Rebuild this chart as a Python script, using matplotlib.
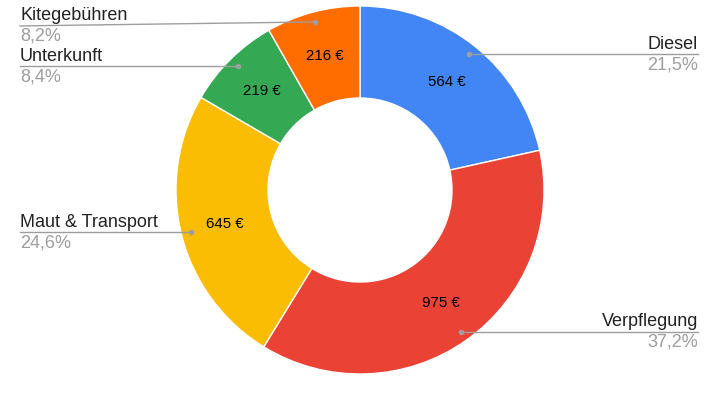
import numpy as np
import matplotlib.pyplot as plt

plt.rcParams['font.family'] = ['Liberation Sans', 'DejaVu Sans']

categories = ['Diesel', 'Verpflegung', 'Maut & Transport', 'Unterkunft', 'Kitegebühren']
values = [564, 975, 645, 219, 216]
value_labels = ['564 €', '975 €', '645 €', '219 €', '216 €']
percent_labels = ['21,5%', '37,2%', '24,6%', '8,4%', '8,2%']
colors = ['#4285F4', '#EA4335', '#FBBC04', '#34A853', '#FF6D01']

W, H = 720, 397
fig = plt.figure(figsize=(W / 100, H / 100), dpi=100)
ax = fig.add_axes([0, 0, 1, 1])

cx, cy, R = 360, H - 190, 184
wedges, _ = ax.pie(values, colors=colors, startangle=90, counterclock=False,
                   center=(cx, cy), radius=R, frame=True,
                   wedgeprops=dict(width=R * 0.5, edgecolor='white', linewidth=1))
ax.set_xlim(0, W)
ax.set_ylim(0, H)
ax.set_aspect('equal')
ax.axis('off')

# small vertical nudges for labels that would collide
nudge = {'Kitegebühren': -4}

for w, name, vl, pl in zip(wedges, categories, value_labels, percent_labels):
    ang = np.deg2rad((w.theta1 + w.theta2) / 2)
    # value label inside ring
    ax.text(cx + 0.755 * R * np.cos(ang), cy + 0.755 * R * np.sin(ang), vl,
            ha='center', va='center', fontsize=10.8, color='#000000')
    # leader dot + line
    dx, dy = cx + 0.945 * R * np.cos(ang), cy + 0.945 * R * np.sin(ang)
    ly = dy + nudge.get(name, 0)
    if np.cos(ang) >= 0:
        lx, ha = 698, 'right'
    else:
        lx, ha = 20, 'left'
    ax.plot([dx, lx], [dy, ly], color='#9e9e9e', lw=1)
    ax.plot(dx, dy, 'o', color='#9e9e9e', ms=3)
    ax.text(lx, ly + 1.5, name, ha=ha, va='bottom', fontsize=13, color='#222222')
    ax.text(lx, ly - 2, pl, ha=ha, va='top', fontsize=13, color='#9e9e9e')

fig.savefig('out.png', dpi=100)
